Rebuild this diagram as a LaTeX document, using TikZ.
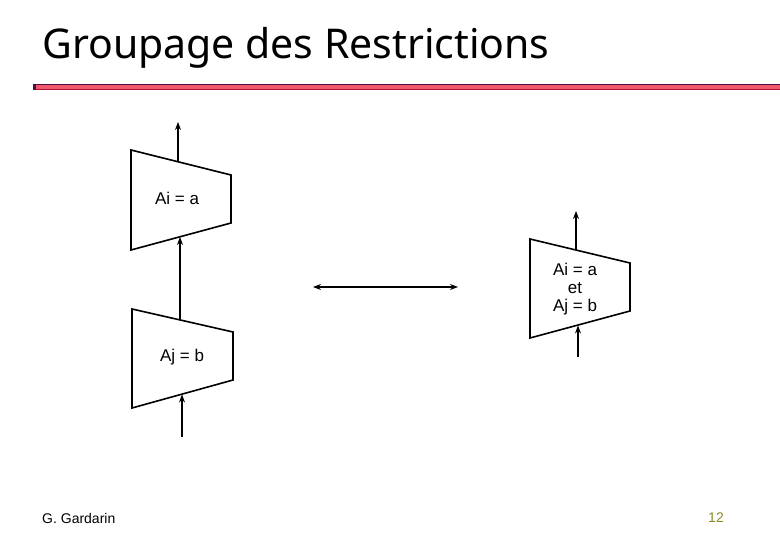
\documentclass[tikz,border=0pt]{standalone}
\usepackage{fontspec}
\setmainfont{Liberation Sans}
\newfontfamily\titlefont{Noto Sans}
\usetikzlibrary{arrows.meta}
\definecolor{barpink}{RGB}{240,88,110}
\definecolor{bartop}{RGB}{80,10,70}
\definecolor{barbot}{RGB}{170,20,50}
\definecolor{pagenum}{RGB}{140,140,40}
\begin{document}
\begin{tikzpicture}[x=1pt,y=-1pt,
  trap/.style={draw=black,line width=1.6pt,fill=white,line join=miter},
  lbl/.style={font=\fontsize{17}{18}\selectfont,align=center,inner sep=0pt},
  conn/.style={line width=1.2pt,-{Stealth[length=8pt,width=6pt]}},
  dconn/.style={line width=1.2pt,{Stealth[length=8pt,width=6pt]}-{Stealth[length=8pt,width=6pt]}}]
\useasboundingbox (0,0) rectangle (780,540);
% title
\node[anchor=base west,font=\titlefont\fontsize{41}{50}\selectfont,inner sep=0pt] (title) at (42,59) {Groupage des Restrictions};
% bar
\fill[barpink] (33,84) rectangle (780,90.5);
\draw[bartop,line width=1.2pt] (33,84.6) -- (780,84.6);
\draw[barbot,line width=1.2pt] (33,89.9) -- (780,89.9);
\fill[bartop] (33,84) rectangle (36,90.5);
% top trapezoid
\draw[trap] (131,150) -- (231,175) -- (231,223) -- (131,250) -- cycle;
\node[lbl] (sa) at (177,198) {Ai = a};
\coordinate (saTop) at (178,162);
\coordinate (saOut) at (178,122);
\coordinate (saBot) at (180,237);
% lower trapezoid
\draw[trap] (132,309) -- (233,332) -- (233,380) -- (132,408) -- cycle;
\node[lbl] (sb) at (182,357) {Aj = b};
\coordinate (sbTop) at (180,320);
\coordinate (sbBot) at (182,394.5);
\coordinate (sbIn) at (182,437);
% right trapezoid
\draw[trap] (530,239) -- (630,263) -- (630,311) -- (530,338) -- cycle;
\node[lbl] (sab) at (575,289) {Ai = a\\et\\Aj = b};
\coordinate (sabTop) at (576,250);
\coordinate (sabOut) at (576,211);
\coordinate (sabBot) at (578,325.5);
\coordinate (sabIn) at (578,357);
% connectors
\draw[conn] (saTop) -- (saOut);
\draw[conn] (sbTop) -- (saBot);
\draw[conn] (sbIn) -- (sbBot);
\draw[conn] (sabTop) -- (sabOut);
\draw[conn] (sabIn) -- (sabBot);
\coordinate (eqL) at (313,287);
\coordinate (eqR) at (458,287);
\draw[dconn] (eqL) -- (eqR);
% footer
\node[anchor=base west,font=\fontsize{14}{16}\selectfont,inner sep=0pt] (author) at (42,523) {G. Gardarin};
\node[anchor=base east,font=\fontsize{14}{16}\selectfont,inner sep=0pt,text=pagenum] (page) at (724,522) {12};
\end{tikzpicture}
\end{document}
